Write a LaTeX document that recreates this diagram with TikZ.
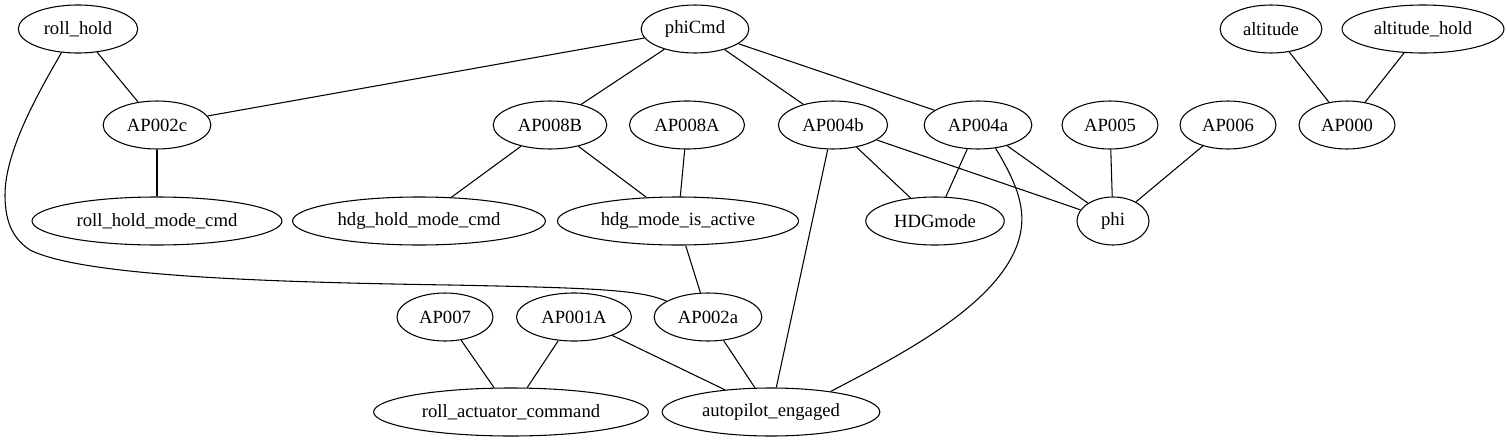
\documentclass[tikz,border=0pt]{standalone}
\usepackage{fontspec}
\setmainfont{Liberation Serif}
\usepackage{tikz}
\usetikzlibrary{shapes.geometric}

\begin{document}
\begin{tikzpicture}[
  x=0.75pt, y=-0.75pt,
  nd/.style={draw=black, ellipse, line width=0.8pt, inner xsep=6pt, inner ysep=2pt,
    minimum width=54pt, minimum height=36pt, font=\fontsize{14pt}{16pt}\selectfont},
  ln/.style={line width=0.8pt},
]
\useasboundingbox (0,0) rectangle (1507,443);

%==== Row 1 ====
\node[nd] (rh)   at (78, 29)   {roll\_hold};
\node[nd] (pc)   at (695, 29)  {phiCmd};
\node[nd] (alt)  at (1271, 29) {altitude};
\node[nd] (alth) at (1423, 29) {altitude\_hold};

%==== Row 2 ====
\node[nd] (a2c) at (157, 125)  {AP002c};
\node[nd] (a8b) at (550, 125)  {AP008B};
\node[nd] (a8a) at (687, 125)  {AP008A};
\node[nd] (a4b) at (833, 125)  {AP004b};
\node[nd] (a4a) at (978, 125)  {AP004a};
\node[nd] (a5)  at (1110, 125) {AP005};
\node[nd] (a6)  at (1228, 125) {AP006};
\node[nd] (a0)  at (1347, 125) {AP000};

%==== Row 3 ====
\node[nd] (rhm) at (157, 221)  {roll\_hold\_mode\_cmd};
\node[nd] (hhm) at (419, 221)  {hdg\_hold\_mode\_cmd};
\node[nd] (hma) at (678, 221)  {hdg\_mode\_is\_active};
\node[nd] (hdg) at (935, 221)  {HDGmode};
\node[nd] (phi) at (1113, 221) {phi};

%==== Row 4 ====
\node[nd] (a7)  at (445, 317) {AP007};
\node[nd] (a1a) at (574, 317) {AP001A};
\node[nd] (a2a) at (708, 317) {AP002a};

%==== Row 5 ====
\node[nd] (rac) at (511, 412) {roll\_actuator\_command};
\node[nd] (ape) at (771, 412) {autopilot\_engaged};

%==== Edges ====
\draw[ln] (rh) -- (a2c);
\draw[ln] (pc) -- (a2c);
\draw[ln] (pc) -- (a8b);
\draw[ln] (pc) -- (a4b);
\draw[ln] (pc) -- (a4a);
\draw[ln] (alt) -- (a0);
\draw[ln] (alth) -- (a0);
\draw[ln] (a2c) -- (rhm);
\draw[ln] (a8b) -- (hhm);
\draw[ln] (a8b) -- (hma);
\draw[ln] (a8a) -- (hma);
\draw[ln] (a4b) -- (hdg);
\draw[ln] (a4b) -- (phi);
\draw[ln] (a4b) -- (ape);
\draw[ln] (a4a) -- (hdg);
\draw[ln] (a4a) -- (phi);
\draw[ln] (a5) -- (phi);
\draw[ln] (a6) -- (phi);
\draw[ln] (hma) -- (a2a);
\draw[ln] (a7) -- (rac);
\draw[ln] (a1a) -- (rac);
\draw[ln] (a1a) -- (ape);
\draw[ln] (a2a) -- (ape);
\draw[ln] (rh.235) .. controls (40,90) and (5,150) .. (5,195)
  .. controls (5,225) and (15,240) .. (30,250)
  .. controls (80,275) and (250,282) .. (450,285)
  .. controls (600,288) and (640,290) .. (a2a.159);
\draw[ln] (a4a.307) .. controls (1015,180) and (1025,205) .. (1021,230)
  .. controls (1010,300) and (900,355) .. (ape.19);

\end{tikzpicture}
\end{document}
